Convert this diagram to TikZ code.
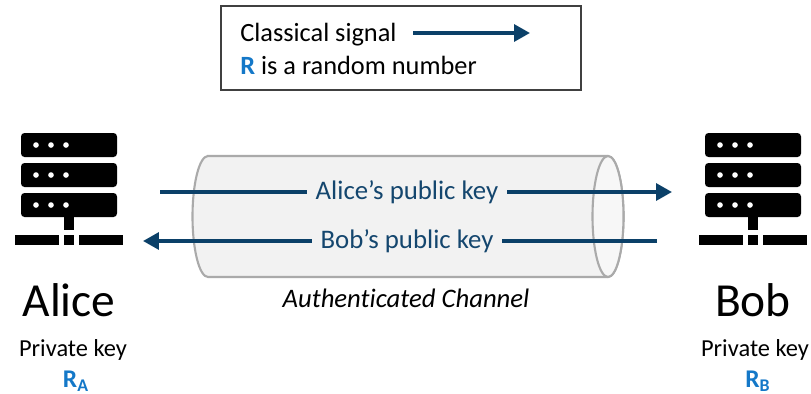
\documentclass[tikz,border=0pt]{standalone}
\usepackage{fontspec}
\setmainfont[Ligatures=NoCommon]{Carlito}
\usetikzlibrary{arrows.meta,positioning}
\definecolor{signalblue}{RGB}{11,64,104}
\definecolor{labelblue}{RGB}{20,70,110}
\definecolor{randomblue}{RGB}{20,120,200}
\definecolor{pipegray}{RGB}{170,170,170}
\definecolor{pipefill}{RGB}{242,242,242}
\definecolor{pipeend}{RGB}{247,247,247}
\begin{document}
\begin{tikzpicture}[
        x=0.02cm, y=-0.02cm,
        signal/.style={draw=signalblue, line width=2pt},
        signalarrow/.style={signal, -{Triangle[length=9pt,width=9.5pt]}},
        pipe/.style={draw=pipegray, line width=1.2pt},
        keylabel/.style={font=\fontsize{15.25}{18}\selectfont, labelblue, inner sep=0pt, outer sep=5pt},
        legendtext/.style={font=\fontsize{15}{18}\selectfont, anchor=west, inner sep=0pt},
        personname/.style={font=\fontsize{27}{30}\selectfont, inner sep=0pt},
        privatetext/.style={font=\fontsize{13.9}{16}\selectfont, inner sep=0pt},
        randomtext/.style={font=\fontsize{14.5}{16}\selectfont\bfseries, randomblue, inner sep=0pt},
        serverpic/.pic={
            \foreach \rowtop in {133,163,193} {
                \fill[black, rounded corners=2pt] (21,\rowtop) rectangle (117,\rowtop+24);
                \foreach \dotx in {36,51,66}
                    \fill[white] (\dotx,\rowtop+12) circle (1.6pt);
            }
            \fill[black] (64,217) rectangle (74,230);
            \fill[black] (15,235) rectangle (59,245);
            \fill[black] (64,235) rectangle (74,245);
            \fill[black] (79,235) rectangle (123,245);
        }
    ]
        \useasboundingbox (0,0) rectangle (811,393);

        % Legend
        \draw[draw=black!75, line width=0.6pt] (221,6) rectangle (581,90);
        \node[legendtext] (signaltext) at (240,34.5) {Classical signal};
        \node[legendtext] (randomtext) at (240,65) {\textbf{\textcolor{randomblue}{R}} is a random number};
        \coordinate (legendstart) at (413,33);
        \coordinate (legendend) at (530,33);
        \draw[signalarrow] (legendstart) -- (legendend);

        % Channel
        \draw[pipe, fill=pipefill] (208,156) -- (608,156) arc (-90:90:15.5 and 60.5) -- (208,277) arc (90:270:15.5 and 60.5) -- cycle;
        \draw[pipe, fill=pipeend] (608,216.5) ellipse (15.5 and 60.5);
        \node[font=\fontsize{15.2}{18}\selectfont\itshape, inner sep=0pt] (channel) at (406,298) {Authenticated Channel};

        % Servers
        \pic at (0,0) {serverpic};
        \pic at (684,0) {serverpic};

        % Alice
        \node[personname] (alice) at (69,300) {Alice};
        \node[privatetext] (aliceprivate) at (73,349.5) {Private key};
        \node[randomtext] (alicekey) at (76,381) {R\textsubscript{A}};

        % Bob
        \node[personname] (bob) at (753,300) {Bob};
        \node[privatetext] (bobprivate) at (755,349.5) {Private key};
        \node[randomtext] (bobkey) at (758,381) {R\textsubscript{B}};

        % Alice to Bob
        \node[keylabel] (alicepub) at (407,192) {Alice’s public key};
        \coordinate (alicestart) at (160,192);
        \coordinate (aliceend) at (672,192);
        \draw[signal] (alicestart) -- (alicepub);
        \draw[signalarrow] (alicepub) -- (aliceend);

        % Bob to Alice
        \node[keylabel] (bobpub) at (407,241) {Bob’s public key};
        \coordinate (bobstart) at (657,241);
        \coordinate (bobend) at (143,241);
        \draw[signal] (bobstart) -- (bobpub);
        \draw[signalarrow] (bobpub) -- (bobend);
    \end{tikzpicture}
\end{document}
